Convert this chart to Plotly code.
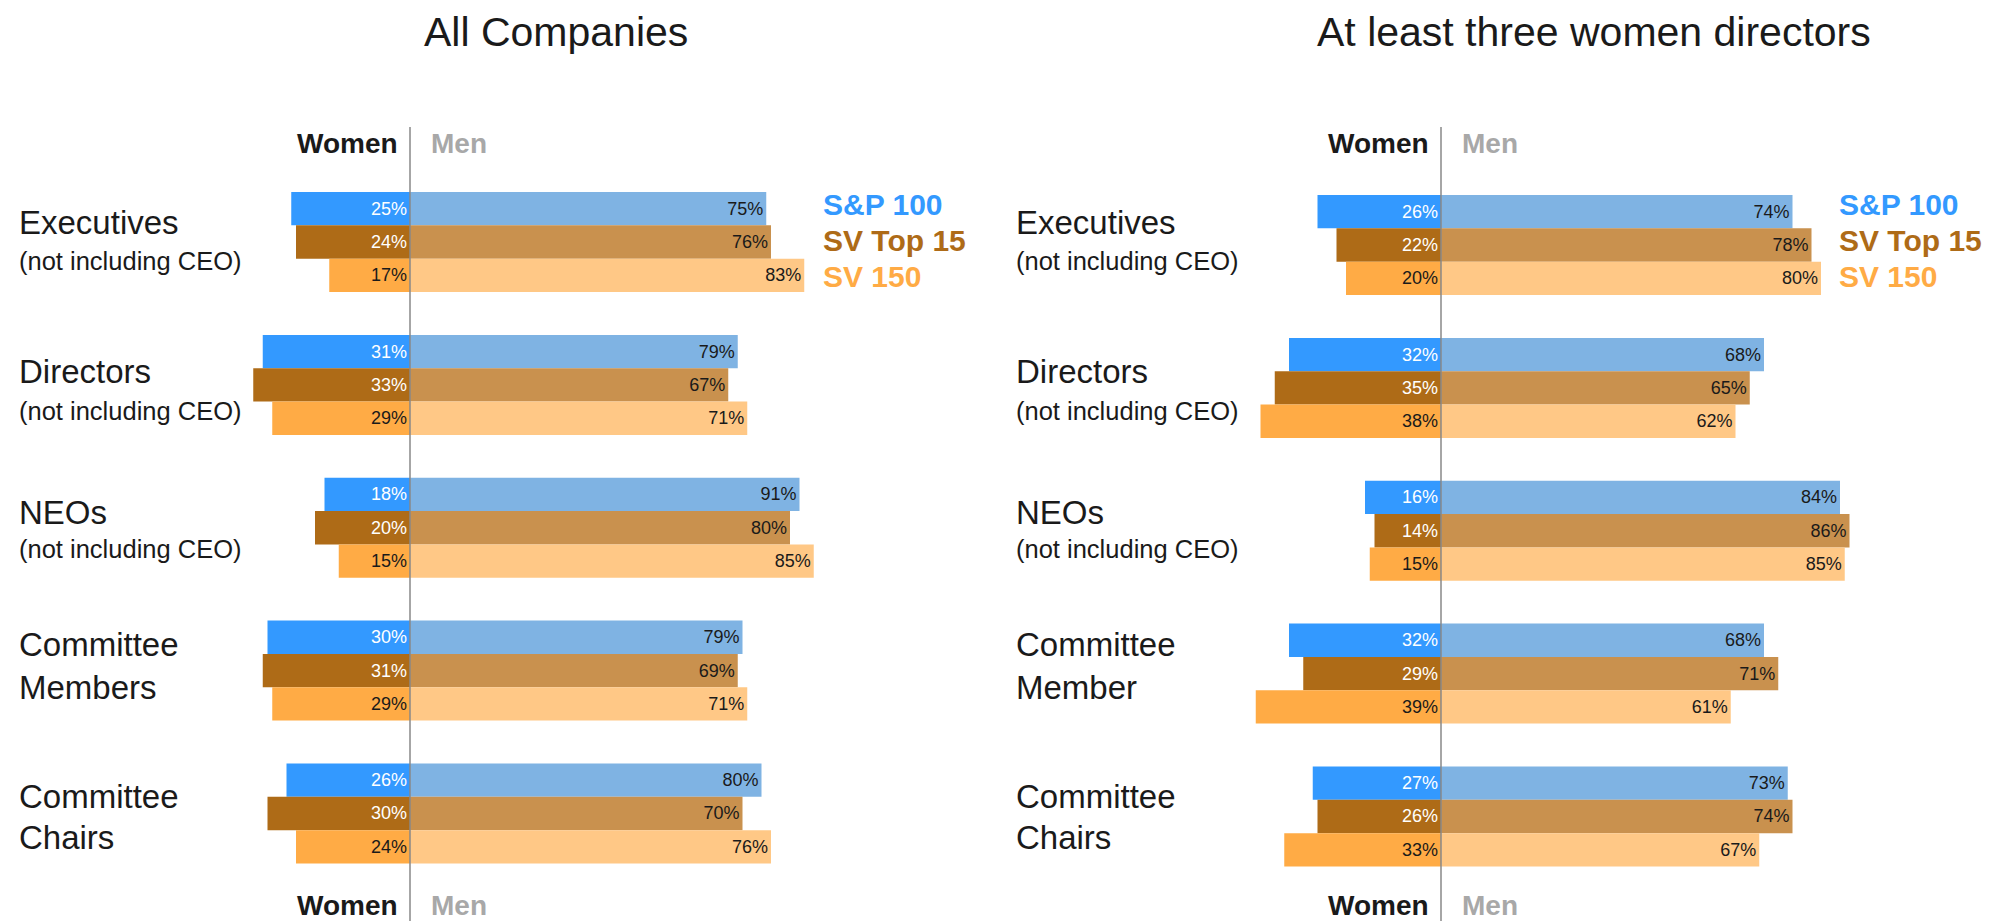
import plotly.graph_objects as go

# ---------------- data ----------------
categories = ["Executives", "Directors", "NEOs", "Committee Members", "Committee Chairs"]
series_names = ["S&P 100", "SV Top 15", "SV 150"]

# All Companies
all_women_sp = [25, 31, 18, 30, 26]
all_men_sp = [75, 69, 82, 70, 74]            # drawn bar lengths
all_men_sp_labels = [75, 79, 91, 79, 80]     # printed labels
all_women_top15 = [24, 33, 20, 31, 30]
all_men_top15 = [76, 67, 80, 69, 70]
all_women_sv150 = [17, 29, 15, 29, 24]
all_men_sv150 = [83, 71, 85, 71, 76]

# At least three women directors
three_women_sp = [26, 32, 16, 32, 27]
three_men_sp = [74, 68, 84, 68, 73]
three_women_top15 = [22, 35, 14, 29, 26]
three_men_top15 = [78, 65, 86, 71, 74]
three_women_sv150 = [20, 38, 15, 39, 33]
three_men_sv150 = [80, 62, 85, 61, 67]

left_labels_main = ["Executives", "Directors", "NEOs", "Committee", "Committee"]
left_labels_sub = ["(not including CEO)", "(not including CEO)", "(not including CEO)", "Members", "Chairs"]
right_labels_main = ["Executives", "Directors", "NEOs", "Committee", "Committee"]
right_labels_sub = ["(not including CEO)", "(not including CEO)", "(not including CEO)", "Member", "Chairs"]

titles = ["All Companies", "At least three women directors"]

# ---------------- styles ----------------
W, H = 1995, 921
FONT = "Liberation Sans, Arial, sans-serif"
women_colors = ["#3399FF", "#AE6B17", "#FFAB45"]
men_colors = ["#7FB3E3", "#C9914E", "#FFC886"]
legend_colors = ["#3399FF", "#AE6B17", "#FFAB45"]
women_text_colors = ["white", "white", "#1a1a1a"]
men_text_color = "#1a1a1a"


def py(p):
    return 1 - p / H


fig = go.Figure()

panels = [
    dict(xa="x", ya="y",
         women=[all_women_sp, all_women_top15, all_women_sv150],
         men=[all_men_sp, all_men_top15, all_men_sv150],
         men_labels=[all_men_sp_labels, all_men_top15, all_men_sv150]),
    dict(xa="x2", ya="y2",
         women=[three_women_sp, three_women_top15, three_women_sv150],
         men=[three_men_sp, three_men_top15, three_men_sv150],
         men_labels=[three_men_sp, three_men_top15, three_men_sv150]),
]

for pi, p in enumerate(panels):
    for si in range(3):
        w = p["women"][si]
        m = p["men"][si]
        ml = p["men_labels"][si]
        grp = f"g{pi}_{si}"
        fig.add_trace(go.Bar(
            y=categories, x=[-v for v in w], orientation="h",
            xaxis=p["xa"], yaxis=p["ya"], offsetgroup=grp,
            marker=dict(color=women_colors[si], line=dict(width=0)),
            text=[f"{v}%" for v in w], textposition="inside",
            insidetextanchor="start", constraintext="none", textangle=0,
            textfont=dict(family=FONT, size=18, color=women_text_colors[si]),
            showlegend=False, hoverinfo="skip", name=series_names[si]))
        fig.add_trace(go.Bar(
            y=categories, x=m, orientation="h",
            xaxis=p["xa"], yaxis=p["ya"], offsetgroup=grp,
            marker=dict(color=men_colors[si], line=dict(width=0)),
            text=[f"{v}%" for v in ml], textposition="inside",
            insidetextanchor="end", constraintext="none", textangle=0,
            textfont=dict(family=FONT, size=18, color=men_text_color),
            showlegend=False, hoverinfo="skip", name=series_names[si]))

scale = 4.75  # px per percent
lc, rc = 410, 1441
axis_common = dict(showticklabels=False, showgrid=False, zeroline=False, showline=False, fixedrange=True)
fig.update_layout(
    width=W, height=H,
    margin=dict(l=0, r=0, t=0, b=0),
    paper_bgcolor="white", plot_bgcolor="rgba(0,0,0,0)",
    barmode="group", bargap=0.30, bargroupgap=0,
    showlegend=False,
    xaxis=dict(domain=[0, 0.5], range=[-lc / scale, (W / 2 - lc) / scale], **axis_common),
    xaxis2=dict(domain=[0.5, 1], range=[-(rc - W / 2) / scale, (W - rc) / scale], **axis_common),
    yaxis=dict(domain=[py(884.9), py(170.6)], type="category", categoryarray=categories,
               range=[4.5, -0.5], anchor="x", **axis_common),
    yaxis2=dict(domain=[py(887.9), py(173.6)], type="category", categoryarray=categories,
                range=[4.5, -0.5], anchor="x2", **axis_common),
)

ann = []
# titles
for tx, t in zip([556, 1594], titles):
    ann.append(dict(text=t, xref="paper", yref="paper", x=tx / W, y=py(32),
                    xanchor="center", yanchor="middle", showarrow=False,
                    font=dict(family=FONT, size=41, color="#1a1a1a")))

# Women / Men headers & center lines
shapes = []
for xr in ["x", "x2"]:
    for yp in [143, 905]:
        ann.append(dict(text="<b>Women</b>", xref=xr, yref="paper", x=0, y=py(yp),
                        xanchor="right", yanchor="middle", xshift=-10, showarrow=False,
                        font=dict(family=FONT, size=28, color="#1a1a1a")))
        ann.append(dict(text="<b>Men</b>", xref=xr, yref="paper", x=0, y=py(yp),
                        xanchor="left", yanchor="middle", xshift=19, showarrow=False,
                        font=dict(family=FONT, size=28, color="#A8A8A8")))
    shapes.append(dict(type="line", xref=xr, yref="paper", x0=0, x1=0, y0=0, y1=py(127),
                       line=dict(color="#888888", width=1.5), layer="above"))

# category labels
main_y = [222, 372, 512, 644, 796]
sub_y = [261, 411, 549, 687, 837]
for lx, mains, subs in [(17, left_labels_main, left_labels_sub), (1014, right_labels_main, right_labels_sub)]:
    for i in range(5):
        ann.append(dict(text=mains[i], xref="paper", yref="paper", x=lx / W, y=py(main_y[i]),
                        xanchor="left", yanchor="middle", showarrow=False,
                        font=dict(family=FONT, size=33, color="#1a1a1a")))
        big = i >= 3
        ann.append(dict(text=subs[i], xref="paper", yref="paper", x=lx / W, y=py(sub_y[i]),
                        xanchor="left", yanchor="middle", showarrow=False,
                        font=dict(family=FONT, size=33 if big else 25.5, color="#1a1a1a")))

# legends
leg_y = [204, 240, 276]
for lx in [821, 1837]:
    for si in range(3):
        ann.append(dict(text=f"<b>{series_names[si]}</b>", xref="paper", yref="paper",
                        x=lx / W, y=py(leg_y[si]), xanchor="left", yanchor="middle",
                        showarrow=False,
                        font=dict(family=FONT, size=30, color=legend_colors[si])))

fig.update_layout(annotations=ann, shapes=shapes)
fig.write_html(
    "out.html",
    config={"displayModeBar": False},
    post_script="document.body.style.margin='0';document.body.style.overflow='hidden';",
)
